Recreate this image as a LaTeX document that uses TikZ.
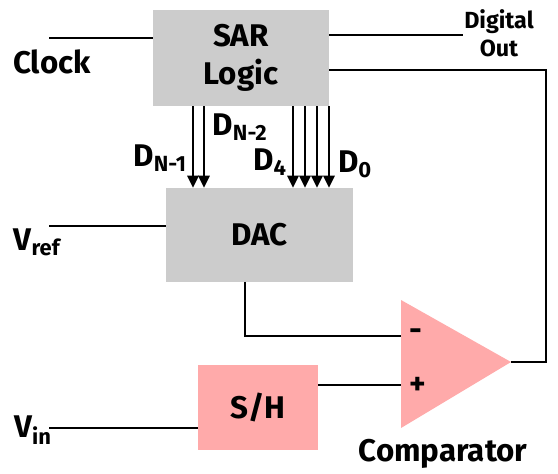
\documentclass[tikz,border=0pt]{standalone}
\usepackage{fontspec}
\setmainfont{Fira Sans}
\usetikzlibrary{positioning,arrows.meta,calc}
\definecolor{blockgray}{HTML}{CCCCCC}
\definecolor{blockpink}{HTML}{FFAAAA}

\begin{document}
\begin{tikzpicture}[
    x=0.75pt, y=-0.75pt,
    font=\bfseries\fontsize{23.5}{28}\selectfont,
    wire/.style={line width=1.5pt},
    bus/.style={line width=1.5pt, -{Triangle[length=9pt, width=8.5pt]}},
    block/.style={rectangle, fill=blockgray, align=center, inner sep=0pt},
    lbl/.style={inner sep=0pt},
    small/.style={font=\bfseries\fontsize{17.5}{21}\selectfont, align=center},
  ]
  \useasboundingbox (0,0) rectangle (558,474);

  % blocks
  \node[block, minimum width=132pt, minimum height=72pt] (sar) at (241,58) {SAR\\Logic};
  \node[block, minimum width=140.25pt, minimum height=70.5pt] (dac) at (259.5,235) {DAC};
  \node[block, fill=blockpink, minimum width=90pt, minimum height=63.75pt] (sh) at (258,407.5) {S/H};

  % comparator
  \coordinate (cmpm) at (401,336);
  \coordinate (cmpp) at (401,385);
  \coordinate (cmpo) at (511,362);
  \fill[blockpink] (401,300) -- (cmpo) -- (401,428) -- cycle;
  \node[lbl] (minus) at (416,335) {-};
  \node[lbl] (plus) at (418,386) {+};
  \node[lbl] (cmplbl) at (443,454) {Comparator};

  % inputs
  \coordinate (clk) at (49,38);
  \coordinate (vref) at (49,226);
  \coordinate (vin) at (49,428);
  \node[lbl] (clklbl) at (52,62) {Clock};
  \node[lbl] (vreflbl) at (37,242) {V\textsubscript{ref}};
  \node[lbl] (vinlbl) at (33,430) {V\textsubscript{in}};
  \draw[wire] (clk) -- (clk -| sar.west);
  \draw[wire] (vref) -- (vref -| dac.west);
  \draw[wire] (vin) -- (vin -| sh.west);

  % outputs
  \coordinate (dout) at (463,35);
  \coordinate (fb) at (546,70);
  \node[small, lbl] (doutlbl) at (499,33) {Digital\\Out};
  \draw[wire] (sar.east |- dout) -- (dout);
  \draw[wire] (cmpo) -| (fb) -- (fb -| sar.east);

  % DAC and S/H into the comparator
  \coordinate (dacout) at (245,282);
  \draw[wire] (dacout) |- (cmpm);
  \draw[wire] (sh.east |- cmpp) -- (cmpp);

  % bit lines
  \foreach \x in {193,204,293,305,317,329}
    \draw[bus] (sar.south -| \x,0) -- (dac.north -| \x,0);
  \node[lbl] (dn1) at (160,158) {D\textsubscript{N-1}};
  \node[lbl] (dn2) at (240,127) {D\textsubscript{N-2}};
  \node[lbl] (d4) at (270,162) {D\textsubscript{4}};
  \node[lbl] (d0) at (355,164) {D\textsubscript{0}};
\end{tikzpicture}
\end{document}
